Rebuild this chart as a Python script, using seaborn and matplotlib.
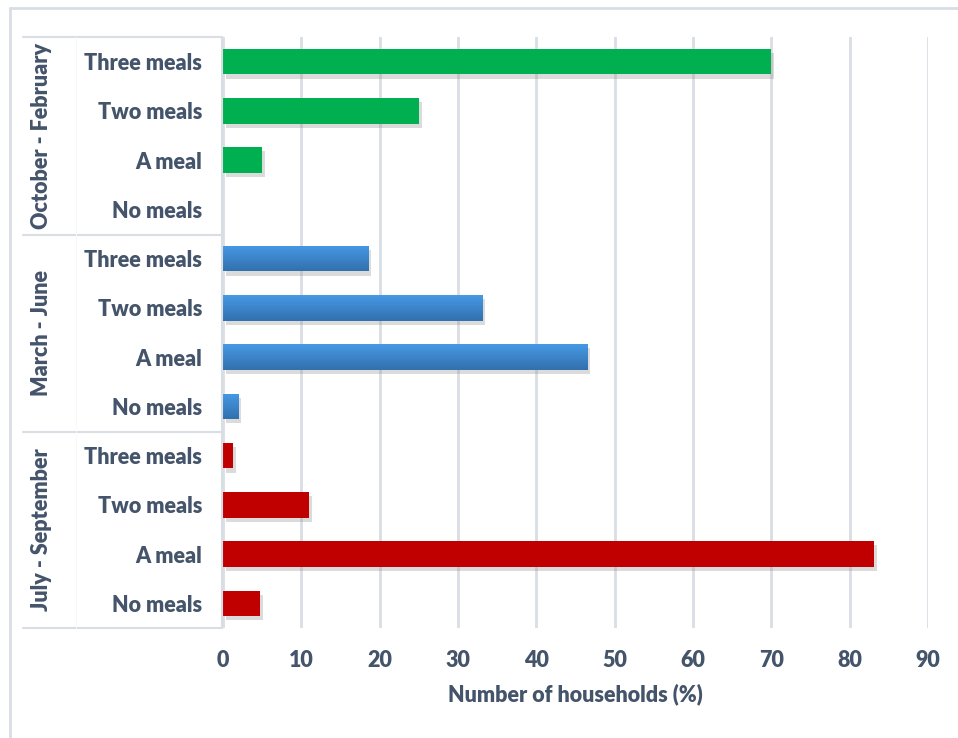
import numpy as np
import pandas as pd
import matplotlib
matplotlib.use("Agg")
import matplotlib.pyplot as plt
import matplotlib.patheffects as pe
from matplotlib.colors import LinearSegmentedColormap, to_rgb
from matplotlib.lines import Line2D
import seaborn as sns

# ---- data ----
periods = ["October - February", "March - June", "July - September"]
meals = ["Three meals", "Two meals", "A meal", "No meals"]
oct_feb = [70.0, 25.0, 5.0, 0.0]
mar_jun = [18.6, 33.1, 46.5, 2.0]
jul_sep = [1.25, 11.0, 83.1, 4.7]
x_ticks = [0, 10, 20, 30, 40, 50, 60, 70, 80, 90]
x_label = "Number of households (%)"

colors = {"October - February": "#00B050",
          "March - June": "#3D88D6",
          "July - September": "#C00000"}

rows = []
for p, vals in zip(periods, [oct_feb, mar_jun, jul_sep]):
    for m, v in zip(meals, vals):
        rows.append({"period": p, "meal": m, "row": f"{p}|{m}", "value": v})
df = pd.DataFrame(rows)

sns.set_theme(style="white")
plt.rcParams["font.family"] = ["Lato", "DejaVu Sans"]
TXT = "#44546A"
GRID = "#D9DEE5"
FS = 15.5
FW = "heavy"

W, H = 958, 738
fig = plt.figure(figsize=(W / 100, H / 100), dpi=100)
L, R, T, B = 223, 928, 37, 628
ax = fig.add_axes([L / W, 1 - B / H, (R - L) / W, (B - T) / H])

sns.barplot(data=df, y="row", x="value", hue="period", palette=colors,
            order=list(df["row"]), hue_order=periods, dodge=False,
            width=0.52, orient="h", legend=False, ax=ax, saturation=1,
            linewidth=0, edgecolor="none")

ax.set_xlim(0, 90)
ax.set_ylim(11.5, -0.5)
ax.set_xticks(x_ticks)
ax.set_xticklabels([str(t) for t in x_ticks], fontsize=FS, fontweight=FW, color=TXT)
ax.set_yticks(range(len(df)))
ax.set_yticklabels(list(df["meal"]), fontsize=FS, fontweight=FW, color=TXT)
ax.tick_params(axis="x", length=0, pad=16)
ax.tick_params(axis="y", length=0, pad=15)
ax.set_ylabel("")
ax.set_xlabel(x_label, fontsize=FS, fontweight=FW, color=TXT, labelpad=9)
ax.grid(axis="x", color=GRID, linewidth=2)
ax.set_axisbelow(True)
for s in ax.spines.values():
    s.set_visible(False)

# shadows and gradient for blue bars
blue_cmap = LinearSegmentedColormap.from_list("bl", ["#4699E5", "#3370AE"])
grad = np.linspace(0, 1, 64).reshape(-1, 1)
for patch in list(ax.patches):
    patch.set_linewidth(0)
    patch.set_path_effects([pe.SimplePatchShadow(offset=(2, -3), shadow_rgbFace="#888888", alpha=0.3),
                            pe.Normal()])
    fc = patch.get_facecolor()[:3]
    if np.allclose(fc, to_rgb(colors["March - June"]), atol=0.02) and patch.get_width() > 0:
        x0, y0 = patch.get_x(), patch.get_y()
        w, h = patch.get_width(), patch.get_height()
        im = ax.imshow(grad, cmap=blue_cmap, aspect="auto",
                       extent=[x0, x0 + w, y0 + h, y0], origin="upper", zorder=patch.get_zorder() + 0.1)
        im.set_clip_path(patch)
ax.set_xlim(0, 90)
ax.set_ylim(11.5, -0.5)

# label-area separators (figure pixel coords)
def fx(px): return px / W
def fy(py): return 1 - py / H
for yy in [37, 235, 432, 628]:
    fig.add_artist(Line2D([fx(23), fx(222)], [fy(yy), fy(yy)], color=GRID, lw=1.5))
fig.add_artist(Line2D([fx(222), fx(222)], [fy(37), fy(628)], color=GRID, lw=1.5))
fig.add_artist(Line2D([fx(76), fx(76)], [fy(37), fy(628)], color="#F7F8FA", lw=0.7))

# group labels
for i, p in enumerate(periods):
    y_top = 37 + i * (628 - 37) / 3
    y_bot = y_top + (628 - 37) / 3
    fig.text(fx(42), fy((y_top + y_bot) / 2), p, rotation=90, ha="center", va="center",
             fontsize=FS, fontweight=FW, color=TXT)

# outer frame
fig.add_artist(Line2D([fx(10), fx(10)], [fy(8), 0], color=GRID, lw=2))
fig.add_artist(Line2D([fx(10), 1], [fy(8), fy(8)], color=GRID, lw=2))

fig.savefig("out.png", dpi=100)
